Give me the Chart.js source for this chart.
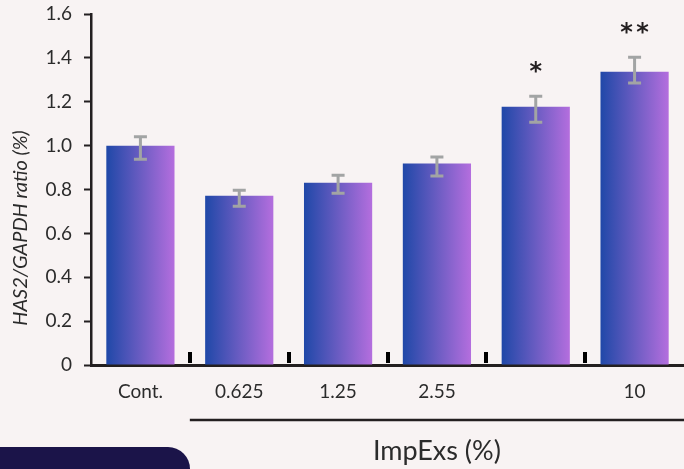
<!DOCTYPE html>
<html><head><meta charset="utf-8">
<script src="https://cdn.jsdelivr.net/npm/chart.js@4"></script>
<style>
html,body{margin:0;padding:0;background:#f8f3f3;}
canvas{display:block;}
</style></head><body>
<canvas id="c" width="684" height="469"></canvas>
<script>
const categories = ['Cont.', '0.625', '1.25', '2.55', '', '10'];
const ratios = [1.0, 0.772, 0.831, 0.918, 1.177, 1.337];
const errUp = [0.041, 0.025, 0.034, 0.030, 0.048, 0.066];
const errDown = [0.062, 0.048, 0.048, 0.057, 0.071, 0.052];
const significance = ['', '', '', '', '*', '**'];
const yTickValues = [0, 0.2, 0.4, 0.6, 0.8, 1.0, 1.2, 1.4, 1.6];
const yTickLabels = ['0', '0.2', '0.4', '0.6', '0.8', '1.0', '1.2', '1.4', '1.6'];
const yTitle = 'HAS2/GAPDH ratio (%)';
const xTitle = 'ImpExs (%)';

const FONT = 'Lato';
const INK = '#231f20';
const TXT = '#2b2b2b';
const BAR_PCT = 0.69;

function barGradient(ctx) {
  const chart = ctx.chart;
  if (!chart.chartArea || !chart.scales.x) return '#6a5cc8';
  const xs = chart.scales.x;
  const cx = xs.getPixelForValue(ctx.dataIndex);
  const w = xs.width / categories.length * BAR_PCT;
  const g = chart.ctx.createLinearGradient(cx - w / 2, 0, cx + w / 2, 0);
  g.addColorStop(0, '#1f48a8');
  g.addColorStop(0.5, '#6a5cc2');
  g.addColorStop(1, '#b46ede');
  return g;
}

const decor = {
  id: 'decor',
  afterDatasetsDraw(chart) {
    const c = chart.ctx, xs = chart.scales.x, ys = chart.scales.y, a = chart.chartArea;
    c.save();
    // boundary ticks
    c.fillStyle = '#000';
    for (let i = 1; i < categories.length; i++) {
      const bx = (xs.getPixelForValue(i - 1) + xs.getPixelForValue(i)) / 2;
      c.fillRect(Math.round(bx - 2), a.bottom - 13, 4, 11);
    }
    // error bars
    c.strokeStyle = '#a2a4a4';
    c.lineWidth = 3;
    c.lineCap = 'butt';
    ratios.forEach((v, i) => {
      const x = xs.getPixelForValue(i);
      const yt = ys.getPixelForValue(v + errUp[i]);
      const yb = ys.getPixelForValue(v - errDown[i]);
      c.beginPath();
      c.moveTo(x, yt); c.lineTo(x, yb);
      c.moveTo(x - 6.5, yt); c.lineTo(x + 6.5, yt);
      c.moveTo(x - 6.5, yb); c.lineTo(x + 6.5, yb);
      c.stroke();
    });
    // significance stars
    c.fillStyle = INK;
    c.font = 'bold 24px "DejaVu Sans"';
    c.textAlign = 'center';
    c.textBaseline = 'alphabetic';
    const m = c.measureText('*');
    const asc = m.actualBoundingBoxAscent, desc = m.actualBoundingBoxDescent;
    const mid = (asc - desc) / 2;
    significance.forEach((s, i) => {
      if (!s) return;
      const x = xs.getPixelForValue(i);
      const yc = ys.getPixelForValue(ratios[i] + errUp[i]) - 29;
      const n = s.length;
      for (let k = 0; k < n; k++) {
        const sx = x + (k - (n - 1) / 2) * 16;
        c.fillText('*', sx, yc + mid);
      }
    });
    c.restore();
  },
  afterDraw(chart) {
    const c = chart.ctx, xs = chart.scales.x;
    c.save();
    const lx = (xs.getPixelForValue(0) + xs.getPixelForValue(1)) / 2;
    c.strokeStyle = INK;
    c.lineWidth = 2.5;
    c.beginPath();
    c.moveTo(lx, 420); c.lineTo(chart.width, 420);
    c.stroke();
    c.fillStyle = TXT;
    c.font = '27px ' + FONT;
    c.textAlign = 'center';
    c.textBaseline = 'middle';
    c.fillText(xTitle, (lx + chart.width) / 2, 451);
    c.font = 'italic 20px ' + FONT;
    c.translate(21, 228);
    c.rotate(-Math.PI / 2);
    c.fillText(yTitle, 0, 0);
    c.restore();
    c.save();
    c.fillStyle = '#1b1449';
    c.beginPath();
    c.roundRect(-40, 447, 230, 60, 22);
    c.fill();
    c.restore();
  }
};

new Chart(document.getElementById('c'), {
  type: 'bar',
  data: {
    labels: categories,
    datasets: [{
      data: ratios,
      backgroundColor: barGradient,
      borderWidth: 0,
      categoryPercentage: 1,
      barPercentage: BAR_PCT
    }]
  },
  options: {
    responsive: false,
    animation: false,
    layout: { padding: { top: 14, left: 0, right: 0, bottom: 0 } },
    plugins: { legend: { display: false }, tooltip: { enabled: false } },
    scales: {
      x: {
        offset: true,
        grid: { display: false, drawTicks: false },
        border: { display: true, color: INK, width: 3 },
        ticks: { color: TXT, font: { family: FONT, size: 19 }, padding: 15, maxRotation: 0, autoSkip: false },
        afterFit: s => { s.height = 104; s.paddingLeft = 0; s.paddingRight = 0; }
      },
      y: {
        min: 0, max: 1.6,
        afterBuildTicks: s => { s.ticks = yTickValues.map(v => ({ value: v })); },
        ticks: { color: TXT, font: { family: FONT, size: 19 }, padding: 12, callback: (v, i) => yTickLabels[i] },
        grid: { drawOnChartArea: false, drawTicks: true, tickLength: 7, tickColor: INK, tickWidth: 2, color: INK },
        border: { display: true, color: INK, width: 2.5 },
        afterFit: s => { s.width = 91; s.paddingTop = 0; s.paddingBottom = 0; }
      }
    }
  },
  plugins: [decor]
});
</script>
</body></html>
